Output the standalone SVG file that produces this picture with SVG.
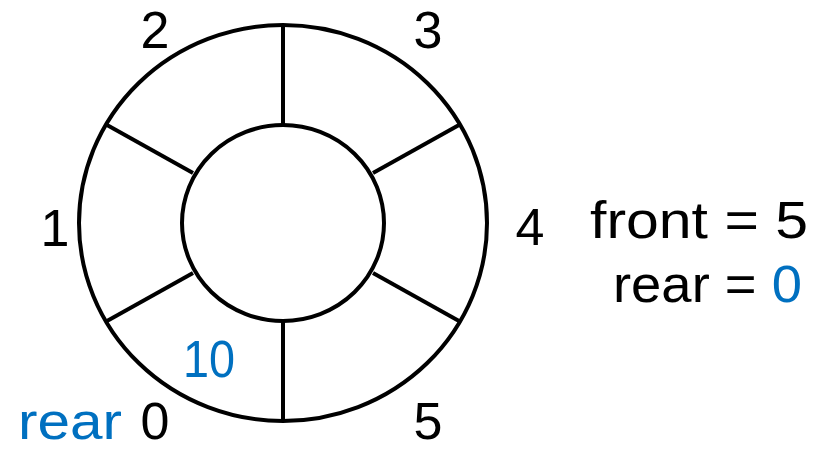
<svg xmlns="http://www.w3.org/2000/svg" width="829" height="450" viewBox="0 0 829 450">
<style>
.ring{fill:none;stroke:#000;stroke-width:4}
.spoke{stroke:#000;stroke-width:4;stroke-linecap:butt}
text{font-family:"Liberation Sans","Open Sans",sans-serif;font-size:52px;fill:#000}
.blue{fill:#0070C0}
.mid{text-anchor:middle}
</style>
<rect width="829" height="450" fill="#fff"/>
<g id="ring">
<ellipse class="ring" cx="283" cy="223" rx="204" ry="198"/>
<ellipse class="ring" cx="283" cy="223" rx="101" ry="98"/>
</g>
<g id="spokes">
<line class="spoke" x1="283" y1="25" x2="283" y2="125"/>
<line class="spoke" x1="283" y1="321" x2="283" y2="421"/>
<line class="spoke" x1="107" y1="125" x2="193" y2="173"/>
<line class="spoke" x1="459" y1="125" x2="373" y2="173"/>
<line class="spoke" x1="107" y1="321" x2="193" y2="273"/>
<line class="spoke" x1="459" y1="321" x2="373" y2="273"/>
</g>
<g id="labels">
<text class="mid" x="155" y="48">2</text>
<text class="mid" x="428" y="48">3</text>
<text class="mid" x="55" y="246">1</text>
<text class="mid" x="530" y="245">4</text>
<text class="mid" x="428" y="439">5</text>
<text class="mid" x="155" y="439">0</text>
<text class="blue" x="18" y="439" textLength="104" lengthAdjust="spacingAndGlyphs">rear</text>
<text class="blue mid" x="209" y="377" textLength="52" lengthAdjust="spacingAndGlyphs">10</text>
</g>
<g id="status">
<text x="590" y="238" textLength="218" lengthAdjust="spacingAndGlyphs">front = 5</text>
<text x="613" y="302" textLength="189" lengthAdjust="spacingAndGlyphs">rear = <tspan class="blue">0</tspan></text>
</g>
</svg>
